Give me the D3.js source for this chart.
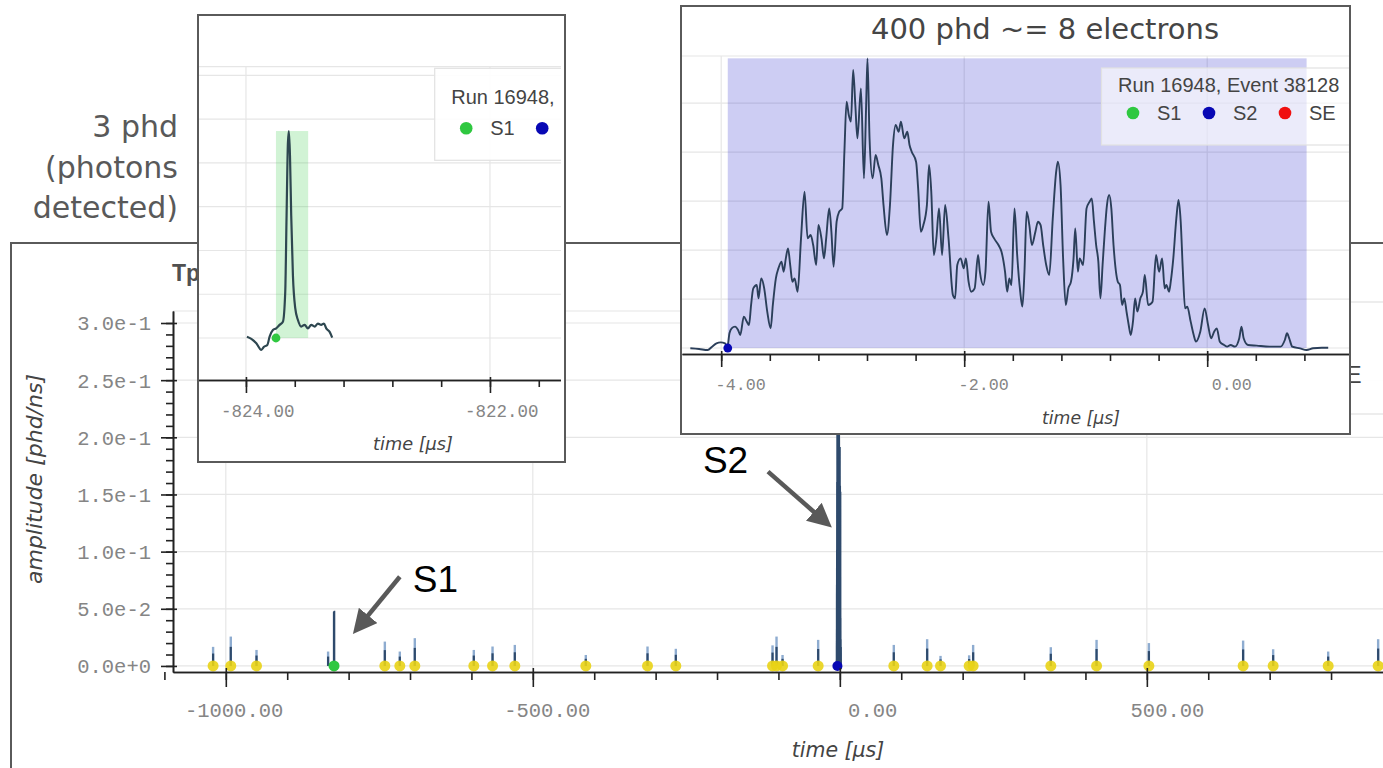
<!DOCTYPE html>
<html>
<head>
<meta charset="utf-8">
<script src="https://cdn.jsdelivr.net/npm/d3@7"></script>
<style>
  html, body { margin: 0; padding: 0; background: #fff; overflow: hidden; }
  svg { display: block; }
</style>
</head>
<body>
<svg width="1383" height="768"></svg>
<script>
// ---- data (time in µs, amplitude in phd/ns) ----

// S1 pulse, zoomed in the left inset
var s1Time = [-823.992,-823.956,-823.915,-823.874,-823.852,-823.825,-823.806,-823.779,-823.752,-823.724,
  -823.697,-823.678,-823.667,-823.656,-823.648,-823.639,-823.629,-823.615,-823.596,-823.574,
  -823.547,-823.519,-823.492,-823.465,-823.437,-823.41,-823.383,-823.361,-823.342,-823.314,-823.293];
var s1Amp = [0.0003,-0.0002,-0.0012,-0.0027,-0.002,-0.0016,0.0003,0.0018,0.0022,0.003,
  0.0037,0.0105,0.028,0.0446,0.0473,0.0416,0.028,0.0143,0.0068,0.0041,
  0.0026,0.003,0.0022,0.003,0.0026,0.0033,0.003,0.0033,0.0022,0.0014,0.0001];
var s1Window = [-823.754, -823.49];

// S2 pulse, zoomed in the right inset
var s2Time = [-4.254,-4.182,-4.111,-4.075,-4.039,-4.004,-3.968,-3.950,-3.932,-3.914,
  -3.886,-3.861,-3.843,-3.814,-3.789,-3.771,-3.754,-3.736,-3.707,-3.693,
  -3.671,-3.646,-3.621,-3.593,-3.575,-3.550,-3.529,-3.504,-3.486,-3.468,
  -3.450,-3.432,-3.414,-3.396,-3.371,-3.343,-3.314,-3.289,-3.264,-3.243,
  -3.218,-3.200,-3.175,-3.154,-3.136,-3.111,-3.093,-3.075,-3.050,-3.029,
  -3.004,-2.986,-2.968,-2.950,-2.932,-2.914,-2.896,-2.879,-2.850,-2.825,
  -2.807,-2.796,-2.779,-2.754,-2.729,-2.707,-2.682,-2.664,-2.636,-2.611,
  -2.586,-2.564,-2.539,-2.521,-2.493,-2.468,-2.450,-2.432,-2.396,-2.379,
  -2.357,-2.336,-2.307,-2.289,-2.271,-2.250,-2.229,-2.207,-2.182,-2.157,
  -2.129,-2.093,-2.075,-2.057,-2.029,-2.004,-1.986,-1.964,-1.943,-1.914,
  -1.886,-1.871,-1.843,-1.825,-1.800,-1.779,-1.754,-1.718,-1.693,-1.664,
  -1.646,-1.629,-1.611,-1.586,-1.564,-1.539,-1.521,-1.504,-1.486,-1.464,
  -1.443,-1.414,-1.393,-1.371,-1.350,-1.325,-1.300,-1.271,-1.243,-1.229,
  -1.207,-1.186,-1.164,-1.143,-1.121,-1.100,-1.086,-1.064,-1.050,-1.021,
  -0.993,-0.968,-0.950,-0.932,-0.914,-0.896,-0.879,-0.861,-0.843,-0.825,
  -0.807,-0.789,-0.771,-0.736,-0.718,-0.700,-0.682,-0.664,-0.646,-0.629,
  -0.611,-0.593,-0.575,-0.550,-0.529,-0.514,-0.486,-0.450,-0.421,-0.396,
  -0.371,-0.350,-0.336,-0.314,-0.300,-0.279,-0.254,-0.236,-0.218,-0.200,
  -0.182,-0.164,-0.136,-0.111,-0.093,-0.057,-0.021,0.007,0.032,0.057,
  0.079,0.104,0.139,0.164,0.193,0.229,0.264,0.282,0.300,0.336,
  0.407,0.514,0.604,0.639,0.657,0.675,0.700,0.764,0.818,0.871,0.943,0.996];
var s2Amp = [-0.0003,-0.0010,-0.0020,0.0014,0.0048,0.0058,0.0048,0.0003,0.0150,0.0201,
  0.0218,0.0184,0.0133,0.0320,0.0269,0.0235,0.0439,0.0609,0.0643,0.0507,
  0.0711,0.0609,0.0371,0.0201,0.0439,0.0711,0.0813,0.0881,0.0779,0.0915,
  0.1017,0.0847,0.0677,0.0711,0.0575,0.1119,0.1595,0.1119,0.1153,0.1051,
  0.0847,0.1255,0.1119,0.0915,0.1119,0.1425,0.1187,0.0830,0.1289,0.1391,
  0.1425,0.2003,0.2514,0.2378,0.2310,0.2837,0.2480,0.2139,0.2650,0.1731,
  0.2480,0.2956,0.2139,0.1731,0.1969,0.1867,0.1731,0.1459,0.1153,0.1459,
  0.2071,0.2276,0.2207,0.2310,0.2139,0.2207,0.2071,0.2003,0.1901,0.1629,
  0.1187,0.1255,0.1459,0.1867,0.1595,0.0949,0.1119,0.1425,0.0949,0.1459,
  0.1119,0.0541,0.0507,0.0847,0.0915,0.0813,0.0915,0.0677,0.0575,0.0609,
  0.0949,0.0779,0.0643,0.0779,0.1493,0.1187,0.1119,0.1051,0.0983,0.0779,
  0.0575,0.0711,0.0643,0.1425,0.0949,0.0575,0.0422,0.0779,0.1391,0.1255,
  0.1051,0.1187,0.1289,0.1255,0.1051,0.0847,0.0745,0.1323,0.1799,0.1901,
  0.1663,0.0915,0.0439,0.0609,0.0677,0.0915,0.1221,0.0779,0.0915,0.0847,
  0.1425,0.1493,0.1527,0.1289,0.1051,0.0881,0.0507,0.0847,0.1187,0.1459,
  0.1561,0.1425,0.1051,0.0677,0.0643,0.0439,0.0507,0.0371,0.0235,0.0133,
  0.0269,0.0507,0.0371,0.0507,0.0575,0.0745,0.0439,0.0473,0.0949,0.0779,
  0.0915,0.0609,0.0643,0.0575,0.0677,0.0915,0.1323,0.1510,0.1289,0.0779,
  0.0405,0.0422,0.0269,0.0133,0.0065,0.0167,0.0405,0.0235,0.0099,0.0167,
  0.0201,0.0065,0.0031,0.0014,0.0031,0.0014,0.0099,0.0218,0.0099,0.0031,
  0.0024,0.0014,0.0014,0.0082,0.0150,0.0099,0.0014,-0.0003,-0.0020,-0.0003,0.0003,0.0003];
var s2Window = [-3.946, 0.818];

// the other (small) pulses over the full event window
var pulseTime = [-1020.7,-991.9,-950.0,-833.4,-741.0,-716.6,-692.2,-596.1,-565.6,-529.3,
  -413.7,-313.2,-267.1,-109.6,-103.1,-93.3,-35.3,87.9,142.2,164.0,
  210.6,217.1,343.6,418.1,503.3,656.8,705.7,795.3,876.7];
var pulseAmp = [0.0167,0.0257,0.014,0.0126,0.0213,0.0126,0.0243,0.014,0.017,0.0184,
  0.0096,0.017,0.015,0.018,0.0257,0.0096,0.0228,0.0184,0.0234,0.0088,
  0.0093,0.0184,0.0164,0.0228,0.02,0.0222,0.0146,0.0126,0.0234];
var pulseMarked = [1,1,1,0,1,1,1,1,1,1, 1,1,1,1,1,1,1,1,1,1, 1,1,1,1,1,1,1,1,1];

var runLabel = "Run 16948, Event 38128";
var legendNames = ["S1", "S2", "SE"];
var legendColors = ["#2fc840", "#0808b4", "#f01010"];

var mainXMajor = [-1000, -500, 0, 500];
var mainYMajor = [0, 0.05, 0.1, 0.15, 0.2, 0.25, 0.3];
var s1XMajor = [-824, -822];
var s1YGrid = [0, 0.01, 0.02, 0.03, 0.04, 0.05, 0.06];
var s2XMajor = [-4, -2, 0];
var s2YGrid = [0, 0.05, 0.1, 0.15, 0.2, 0.25];

var noteLeft = ["3 phd", "(photons", "detected)"];
var noteTitle = "400 phd ~= 8 electrons";

// ---- drawing ----
var svg = d3.select("svg"),
    defs = svg.append("defs");

var MONO = "'Liberation Mono', 'DejaVu Sans Mono', monospace",
    SANS = "'Liberation Sans', Arial, sans-serif",
    WIDE = "'DejaVu Sans', sans-serif",
    gridColor = "#e6e6e6",
    traceColor = "#2b3f5a",
    tickTextColor = "#858585";

function clip(id, x, y, w, h) {
  defs.append("clipPath").attr("id", id)
    .append("rect").attr("x", x).attr("y", y).attr("width", w).attr("height", h);
  return "url(#" + id + ")";
}

function hLines(g, ys, vals, x0, x1) {
  g.selectAll(null).data(vals).enter().append("line")
    .attr("x1", x0).attr("x2", x1)
    .attr("y1", function(d) { return ys(d); }).attr("y2", function(d) { return ys(d); })
    .attr("stroke", gridColor).attr("stroke-width", 1.2);
}
function vLines(g, xs, vals, y0, y1) {
  g.selectAll(null).data(vals).enter().append("line")
    .attr("y1", y0).attr("y2", y1)
    .attr("x1", function(d) { return xs(d); }).attr("x2", function(d) { return xs(d); })
    .attr("stroke", gridColor).attr("stroke-width", 1.2);
}

// bokeh-like bottom axis: major + minor ticks, right-aligned monospace labels
function xAxis(parent, scale, y0, majors, step, o) {
  var d = scale.domain(),
      minors = d3.range(Math.ceil(d[0] / step) - 1, Math.floor(d[1] / step) + 2).map(function(i) { return +(i * step).toFixed(6); });
  var g = parent.append("g").attr("transform", "translate(0," + y0 + ")");
  g.append("g").call(d3.axisBottom(scale).tickValues(minors).tickSize(o.minorOut).tickSizeOuter(0).tickFormat(""));
  var maj = g.append("g").call(d3.axisBottom(scale).tickValues(majors).tickSize(o.majorOut).tickSizeOuter(0)
      .tickFormat(function(v) { return v.toFixed(2); }));
  maj.selectAll(".tick line").attr("y1", -o.majorIn);
  maj.selectAll(".tick text")
    .attr("text-anchor", "end").attr("x", o.labelDx).attr("y", o.labelDy).attr("dy", 0)
    .style("font-family", MONO).style("font-size", o.fs + "px").attr("fill", tickTextColor);
  g.selectAll(".domain").attr("stroke", "#222").attr("stroke-width", 1.6);
  g.selectAll(".tick line").attr("stroke", "#222").attr("stroke-width", 1.6);
  return g;
}

function legend(parent, x, y, w, h, titleDy, itemDy, k, titleK, alpha) {
  var g = parent.append("g");
  g.append("rect").attr("x", x).attr("y", y).attr("width", w).attr("height", h)
    .attr("fill", "#fff").attr("fill-opacity", alpha).attr("stroke", "#e2e2e2").attr("stroke-width", 1.2);
  g.append("text").attr("x", x + 16.5 * k).attr("y", y + titleDy)
    .style("font-family", SANS).style("font-size", (20 * titleK) + "px").attr("fill", "#444")
    .text(runLabel);
  legendNames.forEach(function(name, i) {
    var cx = x + (31.5 + i * 76) * k, cy = y + itemDy;
    g.append("circle").attr("cx", cx).attr("cy", cy).attr("r", 6.3 * k).attr("fill", legendColors[i]);
    g.append("text").attr("x", cx + 24 * k).attr("y", cy + 7 * k)
      .style("font-family", SANS).style("font-size", (20 * k) + "px").attr("fill", "#444")
      .text(name);
  });
  return g;
}

function trace(xs, ys) {
  return d3.line().x(function(d) { return xs(d[0]); }).y(function(d) { return ys(d[1]); }).curve(d3.curveMonotoneX);
}

var s1Data = d3.zip(s1Time, s1Amp),
    s2Data = d3.zip(s2Time, s2Amp),
    pulses = d3.zip(pulseTime, pulseAmp, pulseMarked);

// ===== main event plot =====
var xM = d3.scaleLinear().domain([-1086, 1124]).range([173, 1530]),
    yM = d3.scaleLinear().domain([-0.0053, 0.3105]).range([672, 311]);

svg.append("rect").attr("x", 11).attr("y", 243).attr("width", 1400).attr("height", 600)
  .attr("fill", "#fff").attr("stroke", "#5a5a5a").attr("stroke-width", 2);

var gM = svg.append("g");
gM.append("text").attr("x", 172).attr("y", 281)
  .style("font-family", SANS).style("font-size", "23px").style("font-weight", "bold").attr("fill", "#505050")
  .text("Tpc");

hLines(gM, yM, mainYMajor, 173, 1383);
gM.append("line").attr("x1", 173).attr("x2", 1383).attr("y1", 311).attr("y2", 311)
  .attr("stroke", gridColor).attr("stroke-width", 1.2);
vLines(gM, xM, mainXMajor, 311, 672);

var plotM = gM.append("g").attr("clip-path", clip("clipMain", 173, 311, 1210, 361));

// small pulses: light full spike with a darker core
plotM.selectAll(".spikeLight").data(pulses).enter().append("line")
  .attr("x1", function(d) { return xM(d[0]); }).attr("x2", function(d) { return xM(d[0]); })
  .attr("y1", yM(0)).attr("y2", function(d) { return yM(d[1]); })
  .attr("stroke", "#8eacd0").attr("stroke-width", 2.4);
plotM.selectAll(".spikeDark").data(pulses).enter().append("line")
  .attr("x1", function(d) { return xM(d[0]); }).attr("x2", function(d) { return xM(d[0]); })
  .attr("y1", yM(0)).attr("y2", function(d) { return yM(d[1] * 0.65); })
  .attr("stroke", "#2e4a6c").attr("stroke-width", 2.2);

plotM.append("path").datum(s1Data).attr("d", trace(xM, yM))
  .attr("fill", "none").attr("stroke", "#2e4a6c").attr("stroke-width", 2.4);
plotM.append("path").datum(s2Data).attr("d", trace(xM, yM))
  .attr("fill", "none").attr("stroke", "#2e4a6c").attr("stroke-width", 3.4);

plotM.selectAll(".pmark").data(pulses.filter(function(d) { return d[2]; })).enter().append("circle")
  .attr("cx", function(d) { return xM(d[0]); }).attr("cy", yM(0)).attr("r", 5.5)
  .attr("fill", "#e9d316").attr("fill-opacity", 0.9);
plotM.append("circle").attr("cx", xM(s1Window[0])).attr("cy", yM(0)).attr("r", 5.5).attr("fill", legendColors[0]);
plotM.append("circle").attr("cx", xM(s2Window[0])).attr("cy", yM(0)).attr("r", 5).attr("fill", legendColors[1]);

// main legend sits behind the S2 inset; only its right end shows
legend(gM.append("g").attr("clip-path", clip("clipMainLegend", 1350, 243, 40, 429)),
  1083, 302, 400, 112, 41, 73, 1.19, 1.08, 0.95);

xAxis(gM, xM, 672, mainXMajor, 100, { majorOut: 15, majorIn: 4, minorOut: 8, labelDx: 57, labelDy: 45, fs: 20.5 });

// y axis
var yMinor = d3.range(0, 31).map(function(i) { return i / 100; });
var gy = gM.append("g").attr("transform", "translate(173,0)");
gy.append("g").call(d3.axisLeft(yM).tickValues(yMinor).tickSize(7).tickSizeOuter(0).tickFormat(""));
var gyMaj = gy.append("g").call(d3.axisLeft(yM).tickValues(mainYMajor).tickSize(12).tickSizeOuter(0)
  .tickFormat(function(v) { return v.toExponential(1); }));
gyMaj.selectAll(".tick line").attr("x1", 4);
gyMaj.selectAll(".tick text").attr("x", -22).attr("dy", "0.34em")
  .style("font-family", MONO).style("font-size", "20.5px").attr("fill", tickTextColor);
gy.selectAll(".domain").attr("stroke", "#222").attr("stroke-width", 1.6);
gy.selectAll(".tick line").attr("stroke", "#222").attr("stroke-width", 1.6);

gM.append("text").attr("x", 838).attr("y", 757).attr("text-anchor", "middle")
  .style("font-family", WIDE).style("font-style", "italic").style("font-size", "20.5px").attr("fill", "#444")
  .text("time [µs]");
gM.append("text").attr("transform", "translate(42,479) rotate(-90)").attr("text-anchor", "middle")
  .style("font-family", WIDE).style("font-style", "italic").style("font-size", "22px").attr("fill", "#444")
  .text("amplitude [phd/ns]");

// slide note left of the S1 inset
svg.selectAll(".noteLeft").data(noteLeft).enter().append("text")
  .attr("x", 178).attr("y", function(d, i) { return 137 + i * 40.5; })
  .attr("text-anchor", "end")
  .style("font-family", WIDE).style("font-size", "30px").attr("fill", "#595959")
  .text(function(d) { return d; });

// ===== left inset: S1 =====
var xL = d3.scaleLinear().domain([-824.393, -821.385]).range([198, 565]),
    yL = d3.scaleLinear().domain([-0.0096, 0.062]).range([380, 66.7]);
var gL = svg.append("g");
gL.append("rect").attr("x", 198).attr("y", 15).attr("width", 367).attr("height", 447).attr("fill", "#fff");
var inL = gL.append("g").attr("clip-path", clip("clipL", 198, 15, 363, 447));
hLines(inL, yL, s1YGrid, 198, 565);
inL.append("line").attr("x1", 198).attr("x2", 565).attr("y1", 66.7).attr("y2", 66.7)
  .attr("stroke", gridColor).attr("stroke-width", 1.2);
vLines(inL, xL, s1XMajor, 66.7, 380);
inL.append("rect")
  .attr("x", xL(s1Window[0])).attr("width", xL(s1Window[1]) - xL(s1Window[0]))
  .attr("y", yL(d3.max(s1Amp))).attr("height", yL(0) - yL(d3.max(s1Amp)))
  .attr("fill", "#2fc840").attr("fill-opacity", 0.22);
inL.append("path").datum(s1Data).attr("d", trace(xL, yL))
  .attr("fill", "none").attr("stroke", "#2e4750").attr("stroke-width", 2.2);
inL.append("circle").attr("cx", xL(s1Window[0])).attr("cy", yL(0)).attr("r", 4.4).attr("fill", legendColors[0]);
legend(inL, 434.7, 68.3, 300, 92, 35.7, 60, 1, 1, 0.9);
xAxis(inL, xL, 380, s1XMajor, 0.4, { majorOut: 13, majorIn: 3, minorOut: 7, labelDx: 48, labelDy: 37, fs: 17.5 });
inL.append("text").attr("x", 413).attr("y", 450).attr("text-anchor", "middle")
  .style("font-family", WIDE).style("font-style", "italic").style("font-size", "17.7px").attr("fill", "#444")
  .text("time [µs]");
gL.append("rect").attr("x", 198).attr("y", 15).attr("width", 367).attr("height", 447)
  .attr("fill", "none").attr("stroke", "#5a5a5a").attr("stroke-width", 2);

// ===== right inset: S2 =====
var xR = d3.scaleLinear().domain([-4.3226, 1.1753]).range([682, 1350]),
    yR = d3.scaleLinear().domain([-0.0061, 0.298]).range([354, 56]);
var gR = svg.append("g");
gR.append("rect").attr("x", 681).attr("y", 6).attr("width", 669).attr("height", 428).attr("fill", "#fff");
var inR = gR.append("g").attr("clip-path", clip("clipR", 681, 6, 669, 428));
inR.append("text").attr("x", 1045).attr("y", 39).attr("text-anchor", "middle")
  .style("font-family", WIDE).style("font-size", "29px").attr("fill", "#454545")
  .text(noteTitle);
hLines(inR, yR, s2YGrid, 681, 1350);
inR.append("line").attr("x1", 681).attr("x2", 1350).attr("y1", 56).attr("y2", 56)
  .attr("stroke", gridColor).attr("stroke-width", 1.2);
vLines(inR, xR, s2XMajor, 56, 354);
inR.append("rect")
  .attr("x", xR(s2Window[0])).attr("width", xR(s2Window[1]) - xR(s2Window[0]))
  .attr("y", yR(d3.max(s2Amp))).attr("height", yR(0) - yR(d3.max(s2Amp)))
  .attr("fill", "#1c1cc8").attr("fill-opacity", 0.22);
inR.append("path").datum(s2Data).attr("d", trace(xR, yR))
  .attr("fill", "none").attr("stroke", traceColor).attr("stroke-width", 1.9);
inR.append("circle").attr("cx", xR(s2Window[0])).attr("cy", yR(0)).attr("r", 4.4).attr("fill", legendColors[1]);
legend(inR, 1101.5, 68, 300, 77, 24, 45, 1, 1, 0.6);
xAxis(inR, xR, 354, s2XMajor, 0.4, { majorOut: 13, majorIn: 3, minorOut: 7, labelDx: 44, labelDy: 36, fs: 16.7 });
inR.append("text").attr("x", 1081).attr("y", 424).attr("text-anchor", "middle")
  .style("font-family", WIDE).style("font-style", "italic").style("font-size", "17.3px").attr("fill", "#444")
  .text("time [µs]");
gR.append("rect").attr("x", 681).attr("y", 6).attr("width", 669).attr("height", 428)
  .attr("fill", "none").attr("stroke", "#5a5a5a").attr("stroke-width", 2);

// ===== arrows pointing at S1 and S2 (anchored in main-plot data coords) =====
var notes = [
  { label: "S1", text: [-695.4, 0.065], from: [-716.6, 0.078], to: [-793, 0.028] },
  { label: "S2", text: [-223, 0.169], from: [-117, 0.170], to: [-13, 0.121] }
];
defs.append("marker").attr("id", "arrowHead").attr("viewBox", "0 0 10 10")
  .attr("refX", 5).attr("refY", 5).attr("markerUnits", "userSpaceOnUse")
  .attr("markerWidth", 24).attr("markerHeight", 24).attr("orient", "auto")
  .append("path").attr("d", "M0,0L10,5L0,10z").attr("fill", "#595959");

notes.forEach(function(n) {
  var x0 = xM(n.from[0]), y0 = yM(n.from[1]), x1 = xM(n.to[0]), y1 = yM(n.to[1]),
      len = Math.hypot(x1 - x0, y1 - y0), ux = (x1 - x0) / len, uy = (y1 - y0) / len;
  svg.append("line").attr("x1", x0).attr("y1", y0).attr("x2", x1 - ux * 12).attr("y2", y1 - uy * 12)
    .attr("stroke", "#595959").attr("stroke-width", 4.5).attr("marker-end", "url(#arrowHead)");
  svg.append("text").attr("x", xM(n.text[0])).attr("y", yM(n.text[1]))
    .style("font-family", SANS).style("font-size", "37px").attr("fill", "#000")
    .text(n.label);
});
</script>
</body>
</html>
